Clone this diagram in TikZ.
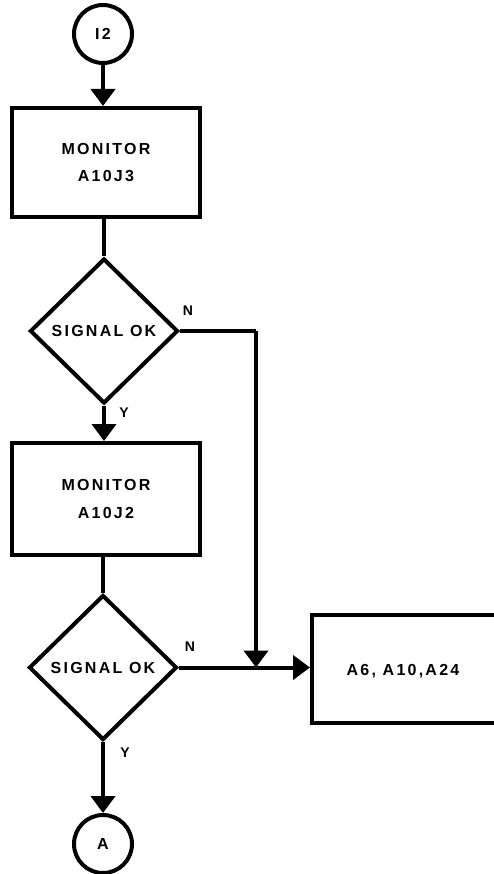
\documentclass[tikz,border=0pt]{standalone}
\usepackage{fontspec}
\setmainfont{Liberation Sans}[BoldFont={* Bold}]
\newfontfamily\flowfont{Liberation Sans Bold}[LetterSpace=14]
\usetikzlibrary{shapes.geometric,arrows.meta}
\begin{document}
\begin{tikzpicture}[x=1pt,y=-1pt,
  every node/.style={font=\flowfont\fontsize{16}{27.5}\selectfont},
  line/.style={line width=4pt},
  arr/.style={line width=4pt,-{Triangle[length=17pt,width=24pt]}},
  procbox/.style={draw,line width=4pt,rectangle,inner sep=0pt,align=center},
  decision/.style={draw,line width=4pt,diamond,inner sep=0pt,minimum width=148pt,minimum height=145pt},
  conn/.style={draw,line width=4pt,circle,minimum size=58pt,inner sep=0pt},
  lbl/.style={font=\flowfont\fontsize{14}{15}\selectfont}]
\clip (0,0) rectangle (494,874);
\fill[white] (0,0) rectangle (494,874);
\node[conn] (i2) at (103,34) {I2};
\node[procbox,minimum width=188pt,minimum height=109pt] (m1) at (106,162.5) {MONITOR\\A10J3};
\node[decision] (d1) at (104,331) {SIGNAL OK};
\node[procbox,minimum width=188pt,minimum height=112pt] (m2) at (106,499) {MONITOR\\A10J2};
\node[decision] (d2) at (103,667.5) {SIGNAL OK};
\node[procbox,minimum width=200pt,minimum height=108pt,anchor=west] (b3) at (310,669) {};
\node at (403,671) (t3) {A6, A10,A24};
\node[conn] (a) at (103,844) {A};
\coordinate (j1) at (256,331);
\coordinate (j2) at (256,667.5);
\draw[arr] (i2.south) -- (i2.south |- m1.north);
\draw[line] (m1.south -| d1.north) -- (d1.north);
\draw[arr] (d1.south) -- (d1.south |- m2.north);
\draw[line] (m2.south -| d2.north) -- (d2.north);
\draw[arr] (d2.south) -- (a.north);
\draw[line] (d1.east) -- (j1);
\draw[arr] (j1) -- (j2);
\draw[arr] (d2.east) -- (d2.east -| b3.west);
\node[lbl] (n1) at (188,311) {N};
\node[lbl] (y1) at (124,413) {Y};
\node[lbl] (n2) at (190,647) {N};
\node[lbl] (y2) at (125,753) {Y};
\end{tikzpicture}
\end{document}
